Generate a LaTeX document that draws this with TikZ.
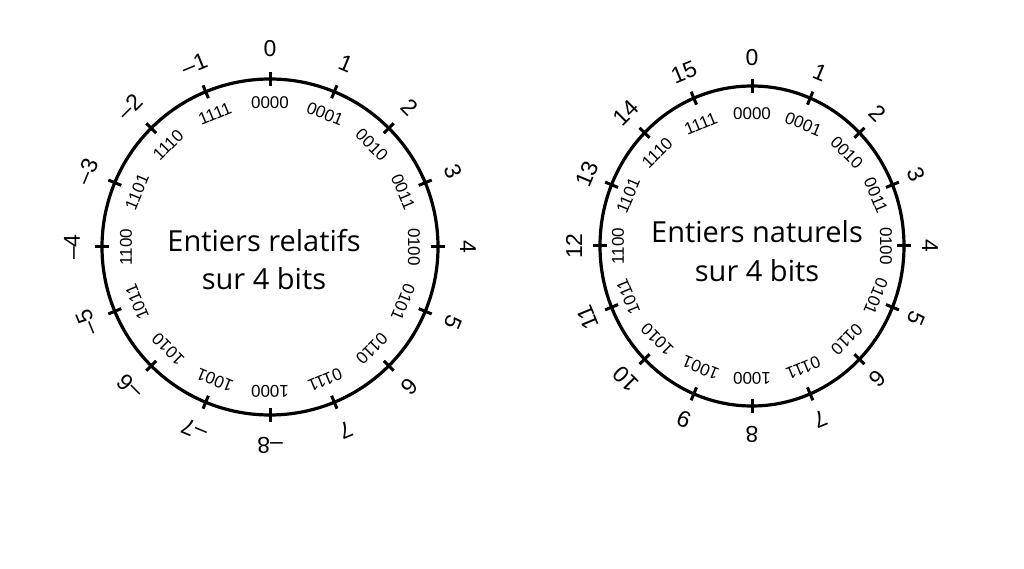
\documentclass[tikz,border=0pt]{standalone}
\usepackage{fontspec}
\setmainfont{Liberation Sans}
\newfontfamily\titlefont{Open Sans}
\usetikzlibrary{calc}
\tikzset{
  ring/.style={line width=3.2pt, draw=black},
  tickmark/.style={line width=3pt, draw=black},
  numlab/.style={font=\fontsize{23}{23}\selectfont, inner sep=0pt},
  binlab/.style={font=\fontsize{17}{17}\selectfont, inner sep=0pt},
  titlelab/.style={font=\titlefont\fontsize{29}{29}\selectfont, anchor=base, inner sep=0pt},
}
\begin{document}
\begin{tikzpicture}[x=1pt,y=1pt]
  \useasboundingbox (0,0) rectangle (1024,568);
  \fill[white] (0,0) rectangle (1024,568);

  % signed integers
  \coordinate (rc) at (270,321);
  \draw[ring] (rc) circle (168);
  \foreach \k/\bin/\val in {0/0000/0, 1/0001/1, 2/0010/2, 3/0011/3,
      4/0100/4, 5/0101/5, 6/0110/6, 7/0111/7, 8/1000/–8, 9/1001/–7,
      10/1010/–6, 11/1011/–5, 12/1100/–4, 13/1101/–3, 14/1110/–2, 15/1111/–1} {
    \pgfmathsetmacro\ang{90-22.5*\k}
    \draw[tickmark] ($(rc)+(\ang:161)$) -- ($(rc)+(\ang:175)$);
    \node[numlab, rotate=\ang-90] (rel\k) at ($(rc)+(\ang:198)$) {\val};
    \node[binlab, rotate=\ang-90] (relbin\k) at ($(rc)+(\ang:144)$) {\bin};
  }
  \node[titlelab] (reltitle) at (264,316) {Entiers relatifs};
  \node[titlelab] (relsub) at (264,278) {sur 4 bits};

  % unsigned integers
  \coordinate (nc) at (752,322);
  \draw[ring] (nc) ellipse [x radius=152, y radius=160];
  \foreach \k/\bin in {0/0000, 1/0001, 2/0010, 3/0011, 4/0100, 5/0101,
      6/0110, 7/0111, 8/1000, 9/1001, 10/1010, 11/1011, 12/1100, 13/1101,
      14/1110, 15/1111} {
    \pgfmathsetmacro\ang{90-22.5*\k}
    \draw[tickmark] ($(nc)+({145*cos(\ang)},{153*sin(\ang)})$)
      -- ($(nc)+({159*cos(\ang)},{167*sin(\ang)})$);
    \node[numlab, rotate=\ang-90] (nat\k) at ($(nc)+({178*cos(\ang)},{188*sin(\ang)})$) {\k};
    \node[binlab, rotate=\ang-90] (natbin\k) at ($(nc)+({134*cos(\ang)},{132*sin(\ang)})$) {\bin};
  }
  \node[titlelab] (nattitle) at (757,325) {Entiers naturels};
  \node[titlelab] (natsub) at (757,286) {sur 4 bits};
\end{tikzpicture}
\end{document}
